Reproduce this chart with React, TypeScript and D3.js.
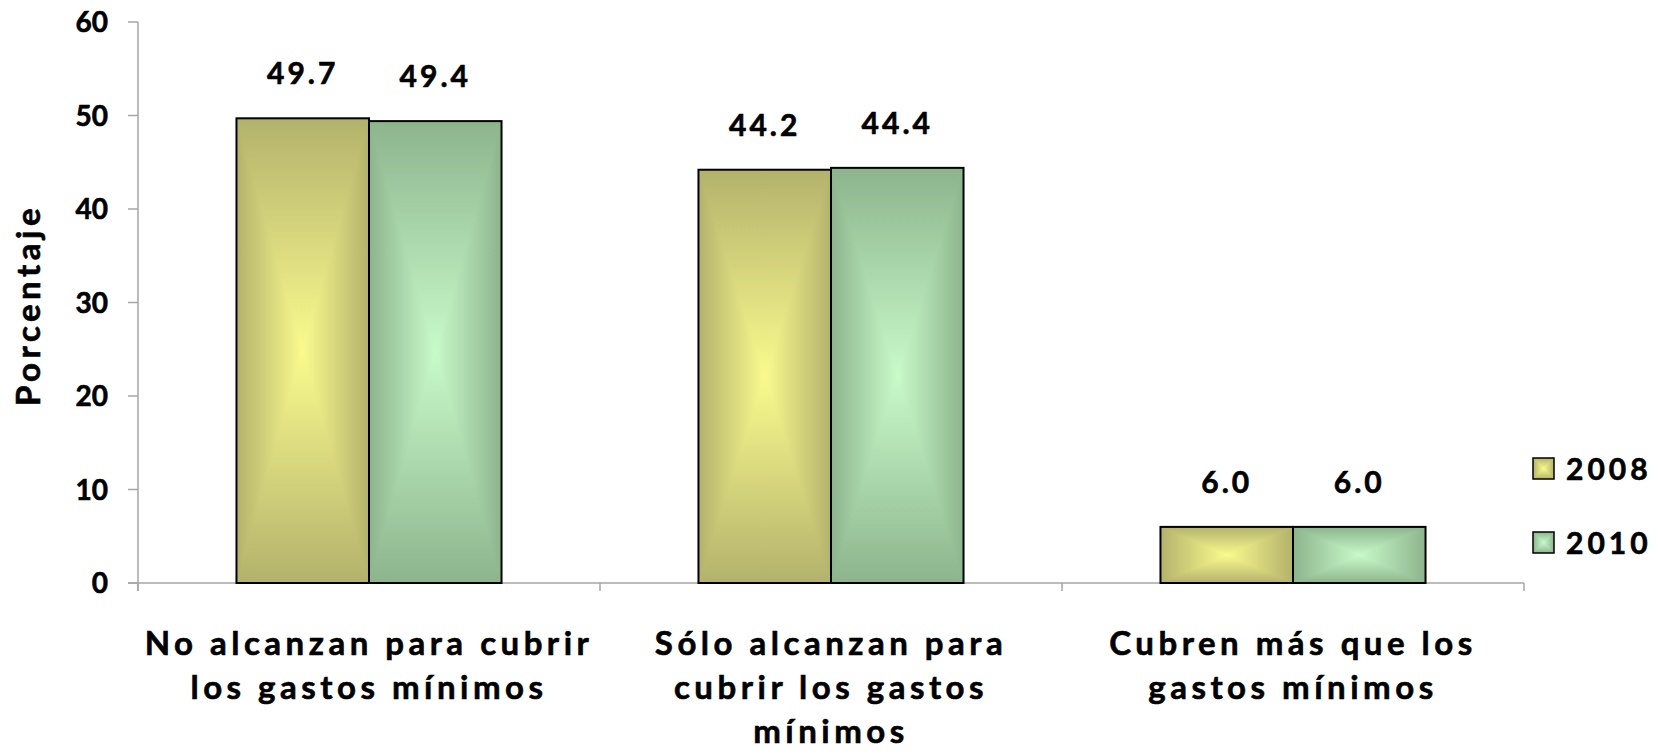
import React from "react";
import * as d3 from "d3";

const categories: string[][] = [
  ["No alcanzan para cubrir", "los gastos mínimos"],
  ["Sólo alcanzan para", "cubrir los gastos", "mínimos"],
  ["Cubren más que los", "gastos mínimos"],
];
const categoryKeys = ["c1", "c2", "c3"];
const seriesNames = ["2008", "2010"];
const values2008 = [49.7, 44.2, 6.0];
const values2010 = [49.4, 44.4, 6.0];
const yTicks = [0, 10, 20, 30, 40, 50, 60];
const yTitle = "Porcentaje";

const seriesValues = [values2008, values2010];
const edgeColors = ["#B3B26C", "#8DB48D"];
const centerColors = ["#FAFA8E", "#C8FACA"];

const W = 1658;
const H = 754;
const FONT = "Lato, 'Open Sans', sans-serif";

export default function App() {
  const y = d3.scaleLinear().domain([0, 60]).range([583, 22]);
  const x0 = d3.scaleBand<string>().domain(categoryKeys).range([138, 1524]).paddingInner(0).paddingOuter(0);
  const x1 = d3
    .scaleBand<string>()
    .domain(seriesNames)
    .range([0, x0.bandwidth()])
    .paddingInner(0)
    .paddingOuter(0.743);

  const gid = (s: number, side: string) => `g${s}${side}`;

  const barPieces = (s: number, xl: number, xr: number, yt: number, yb: number, sw = 2) => {
    const cx = (xl + xr) / 2;
    const cy = (yt + yb) / 2;
    const tri = (pts: number[][]) => d3.line()(pts as [number, number][]) + "Z";
    return (
      <g>
        <rect x={xl} y={yt} width={xr - xl} height={yb - yt} fill={`url(#${gid(s, "h")})`} />
        <path d={tri([[xl, yt], [xr, yt], [cx, cy]])} fill={`url(#${gid(s, "t")})`} />
        <path d={tri([[xl, yb], [xr, yb], [cx, cy]])} fill={`url(#${gid(s, "b")})`} />
        <rect x={xl} y={yt} width={xr - xl} height={yb - yt} fill="none" stroke="#000" strokeWidth={sw} />
      </g>
    );
  };

  const axisColor = "#A6A6A6";
  const ticksX = [...categoryKeys.map((k) => x0(k)!), 1524];
  const bold = { fontFamily: FONT, fontWeight: "bold" as const, stroke: "#000", strokeWidth: 0.6 };

  return (
    <svg width={W} height={H} style={{ position: "absolute", left: 0, top: 0, background: "#fff" }}>
      <defs>
        {seriesNames.map((_, s) => (
          <React.Fragment key={s}>
            <linearGradient id={gid(s, "h")} x1="0" y1="0" x2="1" y2="0">
              <stop offset="0" stopColor={edgeColors[s]} />
              <stop offset="0.5" stopColor={centerColors[s]} />
              <stop offset="1" stopColor={edgeColors[s]} />
            </linearGradient>
            <linearGradient id={gid(s, "t")} x1="0" y1="0" x2="0" y2="1">
              <stop offset="0" stopColor={edgeColors[s]} />
              <stop offset="1" stopColor={centerColors[s]} />
            </linearGradient>
            <linearGradient id={gid(s, "b")} x1="0" y1="1" x2="0" y2="0">
              <stop offset="0" stopColor={edgeColors[s]} />
              <stop offset="1" stopColor={centerColors[s]} />
            </linearGradient>
          </React.Fragment>
        ))}
      </defs>

      {/* Y axis */}
      <line x1={138} x2={138} y1={y(60)} y2={y(0) + 8} stroke={axisColor} strokeWidth={1.5} />
      {yTicks.map((t) => (
        <g key={t}>
          <line x1={128} x2={138} y1={y(t)} y2={y(t)} stroke={axisColor} strokeWidth={1.5} />
          <text x={108} y={y(t) + 10} textAnchor="end" fontSize={28} {...bold}>
            {t}
          </text>
        </g>
      ))}

      {/* X axis */}
      <line x1={128} x2={1524} y1={y(0)} y2={y(0)} stroke={axisColor} strokeWidth={1.5} />
      {ticksX.map((tx, i) => (
        <line key={i} x1={tx} x2={tx} y1={y(0)} y2={y(0) + 8} stroke={axisColor} strokeWidth={1.5} />
      ))}

      {/* Bars */}
      {categoryKeys.map((k, ci) =>
        seriesNames.map((sn, s) => {
          const xl = x0(k)! + x1(sn)!;
          const xr = xl + x1.bandwidth();
          const v = seriesValues[s][ci];
          return (
            <g key={k + sn}>
              {barPieces(s, xl, xr, y(v), y(0))}
              <text x={(xl + xr) / 2} y={y(v) - 34} textAnchor="middle" fontSize={30} letterSpacing={3} {...bold}>
                {v.toFixed(1)}
              </text>
            </g>
          );
        })
      )}

      {/* Category labels */}
      {categoryKeys.map((k, ci) => (
        <text key={k} textAnchor="middle" fontSize={33} letterSpacing={4.5} {...bold}>
          {categories[ci].map((line, li) => (
            <tspan key={li} x={x0(k)! + x0.bandwidth() / 2} y={655 + li * 44}>
              {line}
            </tspan>
          ))}
        </text>
      ))}

      {/* Y title */}
      <text
        transform={`translate(40,${305}) rotate(-90)`}
        textAnchor="middle"
        fontSize={33}
        letterSpacing={4.5}
        {...bold}
      >
        {yTitle}
      </text>

      {/* Legend */}
      {seriesNames.map((sn, s) => {
        const top = 458 + s * 74;
        return (
          <g key={sn}>
            {barPieces(s, 1533, 1554, top, top + 21, 1.5)}
            <text x={1566} y={top + 22} fontSize={30} letterSpacing={4} {...bold}>
              {sn}
            </text>
          </g>
        );
      })}
    </svg>
  );
}
